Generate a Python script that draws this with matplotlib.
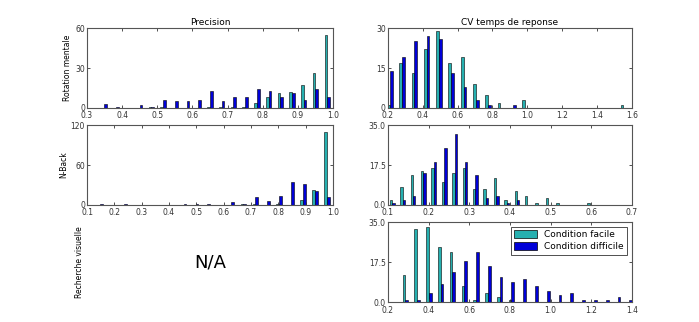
"""Histograms of precision and RT variability per task, easy vs hard condition."""

import matplotlib

matplotlib.use("Agg")

import matplotlib.pyplot as plt
import numpy as np

# ---- data: bin ranges and counts per bin (20 bins each) ----
rot_prec_range = (0.333, 1.0)
rot_prec_facile = [0, 0, 0, 0, 1, 1, 0, 0, 0, 1, 1, 1, 1, 4, 8, 11, 12, 17, 26, 55]
rot_prec_difficile = [3, 1, 0, 2, 1, 6, 5, 5, 6, 13, 5, 8, 8, 14, 13, 8, 11, 6, 14, 8]

nback_prec_range = (0.125, 1.0)
nback_prec_facile = [0, 0, 0, 0, 0, 0, 0, 0, 0, 0, 0, 0, 1, 1, 0, 1, 0, 7, 23, 110]
nback_prec_difficile = [1, 0, 1, 0, 0, 0, 0, 2, 1, 1, 0, 5, 2, 12, 6, 14, 34, 32, 21, 12]

rot_cv_range = (0.175, 1.587)
rot_cv_facile = [1, 17, 13, 22, 29, 17, 19, 9, 5, 2, 0, 3, 0, 0, 0, 0, 0, 0, 0, 1]
rot_cv_difficile = [14, 19, 25, 27, 26, 13, 8, 3, 1, 0, 1, 0, 0, 0, 0, 0, 0, 0, 0, 0]

nback_cv_range = (0.098, 0.609)
nback_cv_facile = [2, 8, 13, 15, 16, 10, 14, 16, 7, 7, 12, 2, 6, 4, 1, 3, 1, 0, 0, 1]
nback_cv_difficile = [1, 2, 4, 14, 19, 25, 31, 19, 13, 3, 4, 1, 2, 0, 0, 0, 0, 0, 0, 0]

rv_cv_range = (0.256, 1.417)
rv_cv_facile = [12, 32, 33, 24, 22, 7, 1, 4, 2, 1, 0, 0, 0, 0, 0, 0, 0, 0, 0, 0]
rv_cv_difficile = [1, 1, 4, 8, 13, 18, 22, 16, 11, 9, 10, 7, 5, 3, 4, 1, 1, 1, 2, 1]

labels = ["Condition facile", "Condition difficile"]

COL_FACILE = "#26b0b0"
COL_DIFFICILE = "#0000d8"
SPINE = "#555555"


def style_axes(ax, xlim, xticks, ylim, yticks, yfmt="{:g}"):
    ax.set_xlim(*xlim)
    ax.set_ylim(*ylim)
    ax.set_xticks(xticks)
    ax.set_xticklabels([f"{t:.1f}" for t in xticks])
    ax.set_yticks(yticks)
    ax.set_yticklabels([yfmt.format(t) for t in yticks])
    ax.tick_params(direction="in", top=True, right=True, length=2.5, width=0.6,
                   labelsize=5.5, pad=1.5, colors="#333333")
    ax.tick_params(axis="x", pad=2.5)
    for sp in ax.spines.values():
        sp.set_color(SPINE)
        sp.set_linewidth(0.8)


def draw_hist(ax, rng, facile, difficile):
    lo, hi = rng
    n = len(facile)
    w = (hi - lo) / n
    centers = lo + (np.arange(n) + 0.5) * w
    bw = 0.23 * w
    ax.bar(centers - bw / 2, facile, width=bw, color=COL_FACILE,
           edgecolor="black", linewidth=0.4, label=labels[0])
    ax.bar(centers + bw / 2, difficile, width=bw, color=COL_DIFFICILE,
           edgecolor="black", linewidth=0.4, label=labels[1])


fig = plt.figure(figsize=(6.99, 3.22), dpi=100)

lx, rx, w_l, w_r = 0.1245, 0.555, 0.352, 0.349
rows = [0.6646, 0.3634, 0.062]
h = 0.248

ax1 = fig.add_axes([lx, rows[0], w_l, h])
draw_hist(ax1, rot_prec_range, rot_prec_facile, rot_prec_difficile)
style_axes(ax1, (0.3, 1.0), np.arange(0.3, 1.01, 0.1), (0, 60), [0, 30, 60])
ax1.set_title("Precision", fontsize=6.5, pad=2)
ax1.set_ylabel("Rotation mentale", fontsize=5.5, labelpad=2)

ax2 = fig.add_axes([rx, rows[0], w_r, h])
draw_hist(ax2, rot_cv_range, rot_cv_facile, rot_cv_difficile)
style_axes(ax2, (0.2, 1.6), np.arange(0.2, 1.61, 0.2), (0, 30), [0, 15, 30])
ax2.set_title("CV temps de reponse", fontsize=6.5, pad=2)

ax3 = fig.add_axes([lx, rows[1], w_l, h])
draw_hist(ax3, nback_prec_range, nback_prec_facile, nback_prec_difficile)
style_axes(ax3, (0.1, 1.0), np.arange(0.1, 1.01, 0.1), (0, 120), [0, 60, 120])
ax3.set_ylabel("N-Back", fontsize=5.5, labelpad=2)

ax4 = fig.add_axes([rx, rows[1], w_r, h])
draw_hist(ax4, nback_cv_range, nback_cv_facile, nback_cv_difficile)
style_axes(ax4, (0.1, 0.7), np.arange(0.1, 0.71, 0.1), (0, 35), [0, 17.5, 35],
           yfmt="{:.1f}")

ax5 = fig.add_axes([lx, rows[2], w_l, h])
ax5.set_xticks([])
ax5.set_yticks([])
for sp in ax5.spines.values():
    sp.set_visible(False)
ax5.set_ylabel("Recherche visuelle", fontsize=5.5, labelpad=2)
ax5.text(0.5, 0.5, "N/A", transform=ax5.transAxes, ha="center", va="center",
         fontsize=13)

ax6 = fig.add_axes([rx, rows[2], w_r, h])
draw_hist(ax6, rv_cv_range, rv_cv_facile, rv_cv_difficile)
style_axes(ax6, (0.2, 1.4), np.arange(0.2, 1.41, 0.2), (0, 35), [0, 17.5, 35],
           yfmt="{:.1f}")
leg = ax6.legend(loc="upper right", fontsize=6.5, handlelength=2.5,
                 handleheight=0.9, borderpad=0.4, labelspacing=0.3,
                 fancybox=False, framealpha=1)
leg.get_frame().set_edgecolor("#333333")
leg.get_frame().set_linewidth(0.6)
for patch in leg.get_patches():
    patch.set_linewidth(0.5)

fig.savefig("out.png", dpi=100)
